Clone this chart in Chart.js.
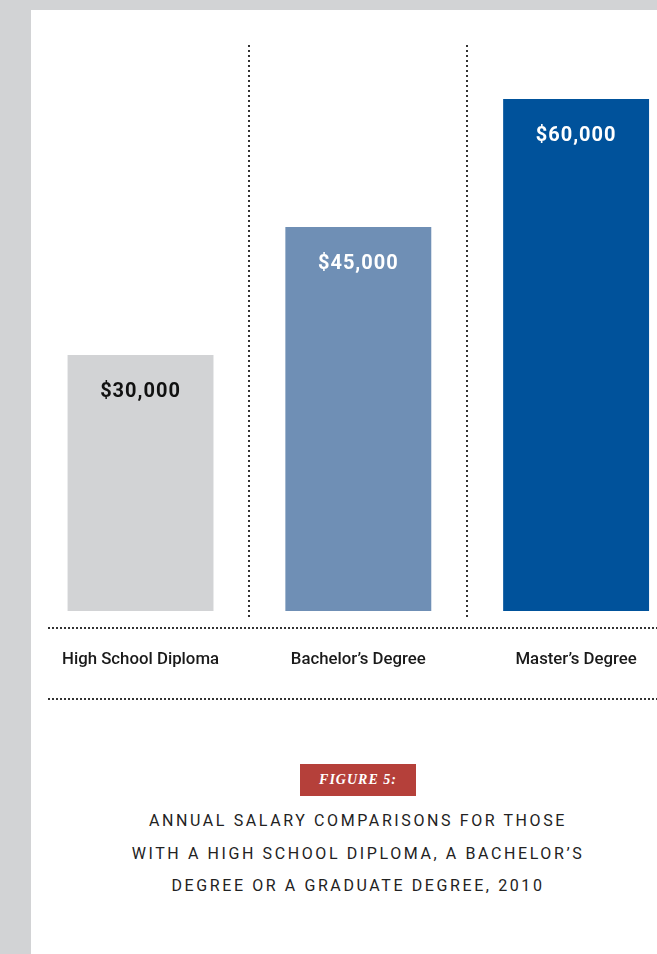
<!DOCTYPE html>
<html>
<head>
<meta charset="utf-8">
<script src="https://cdn.jsdelivr.net/npm/chart.js@4.4.1/dist/chart.umd.min.js"></script>
<style>
  html, body { margin: 0; padding: 0; width: 657px; height: 954px; overflow: hidden; background: #d2d3d5; }
  #panel { position: absolute; left: 31px; top: 10px; right: 0; bottom: 0; background: #fff; }
  #wrap { position: absolute; left: 31px; top: 10px; width: 654px; height: 700px; }
  #caption { position: absolute; left: 31px; top: 764px; width: 654px; text-align: center; }
  #fig { display: inline-block; background: #b5403a; color: #fff; font: italic bold 14px "Liberation Serif", serif;
         letter-spacing: 1px; height: 32px; line-height: 32px; padding: 0 19px; }
  #title { margin-top: 9px; font: 16px Roboto, sans-serif; letter-spacing: 2.6px; line-height: 32.5px; color: #222; }
</style>
</head>
<body>
<div id="panel"></div>
<div id="wrap"><canvas id="c" width="654" height="700"></canvas></div>
<div id="caption">
  <div id="fig">FIGURE 5:</div>
  <div id="title">ANNUAL SALARY COMPARISONS FOR THOSE<br>WITH A HIGH SCHOOL DIPLOMA, A BACHELOR’S<br>DEGREE OR A GRADUATE DEGREE, 2010</div>
</div>
<script>
const categories = ['High School Diploma', 'Bachelor’s Degree', 'Master’s Degree'];
const salaries = [30000, 45000, 60000];
const barColors = ['#d2d3d5', '#6f8fb5', '#00529b'];
const valueColors = ['#111111', '#ffffff', '#ffffff'];

// bar value labels, placed inside the top of each bar
const valueLabels = {
  id: 'valueLabels',
  afterDatasetsDraw(chart) {
    const ctx = chart.ctx;
    const meta = chart.getDatasetMeta(0);
    ctx.save();
    ctx.font = 'bold 20px Roboto, sans-serif';
    ctx.letterSpacing = '1px';
    ctx.textAlign = 'center';
    ctx.textBaseline = 'middle';
    meta.data.forEach((bar, i) => {
      ctx.fillStyle = valueColors[i];
      ctx.fillText('$' + salaries[i].toLocaleString('en-US'), bar.x, bar.y + 37);
    });
    ctx.restore();
  }
};

// dotted rules above and below the category labels
const rules = {
  id: 'rules',
  afterDraw(chart) {
    const ctx = chart.ctx;
    const b = chart.chartArea.bottom;
    ctx.save();
    ctx.strokeStyle = '#333';
    ctx.lineWidth = 2;
    ctx.setLineDash([2, 2]);
    [b + 9, b + 80].forEach(y => {
      ctx.beginPath();
      ctx.moveTo(17, y);
      ctx.lineTo(chart.width, y);
      ctx.stroke();
    });
    ctx.restore();
  }
};

new Chart(document.getElementById('c').getContext('2d'), {
  type: 'bar',
  data: {
    labels: categories,
    datasets: [{
      data: salaries,
      backgroundColor: barColors,
      borderWidth: 0,
      barPercentage: 0.67,
      categoryPercentage: 1
    }]
  },
  options: {
    responsive: false,
    animation: false,
    layout: { padding: { top: 35, left: 0, right: 0, bottom: 0 } },
    plugins: { legend: { display: false }, tooltip: { enabled: false } },
    scales: {
      x: {
        afterFit: s => { s.height = 91; },
        grid: {
          offset: true,
          drawTicks: false,
          lineWidth: 2,
          color: c => (c.index === 0 || c.index === undefined) ? 'rgba(0,0,0,0)' : '#333'
        },
        border: { display: false, dash: [2, 3] },
        ticks: {
          color: '#1a1a1a',
          font: { family: 'Roboto', size: 16.8, weight: 500 },
          padding: 31,
          maxRotation: 0,
          autoSkip: false
        }
      },
      y: {
        display: false,
        min: -937.5,
        max: 66328
      }
    }
  },
  plugins: [valueLabels, rules]
});
</script>
</body>
</html>
